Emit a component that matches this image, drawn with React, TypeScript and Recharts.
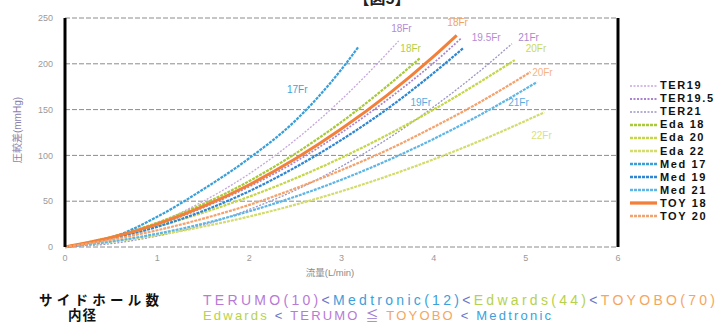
import React from 'react';
import { LineChart, Line, XAxis, YAxis, CartesianGrid, Legend, ReferenceDot, ReferenceLine } from 'recharts';

// flow (L/min), pressure gradient (mmHg)
const flowTicks = [0, 1, 2, 3, 4, 5, 6];
const pressureTicks = [0, 50, 100, 150, 200, 250];

const TER19: [number, number][] = [[0, 0], [0.5, 9.7], [1, 26], [1.5, 50], [2, 80], [2.5, 117], [3, 161], [3.5, 212], [3.62, 225]];
const TER195: [number, number][] = [[0, 0], [0.5, 9.9], [1, 24], [1.5, 43], [2, 66], [2.5, 93], [3, 125], [3.5, 161], [4, 201], [4.3, 228]];
const TER21: [number, number][] = [[0, 0], [0.5, 3.7], [1, 12], [1.5, 24], [2, 41], [2.5, 62], [3, 88], [3.5, 118], [4, 153], [4.5, 192], [4.85, 222]];
const EDA18: [number, number][] = [[0, 0], [0.5, 11], [1, 26.5], [1.5, 47], [2, 72], [2.5, 102], [3, 136.5], [3.5, 176], [3.85, 206]];
const EDA20: [number, number][] = [[0, 0], [0.5, 10], [1, 22.5], [1.5, 37.5], [2, 55], [2.5, 75], [3, 97.5], [3.5, 122.5], [4, 150], [4.5, 180], [4.88, 204]];
const EDA22: [number, number][] = [[0, 0], [0.5, 5.6], [1, 13], [1.5, 22.3], [2, 33.3], [2.5, 46.2], [3, 60.9], [3.5, 77.4], [4, 95.7], [4.5, 115.8], [5.2, 147]];
const MED17: [number, number][] = [[0, 0], [0.5, 10], [1, 33], [1.5, 63], [2, 97], [2.5, 138], [3, 194], [3.18, 218]];
const MED19: [number, number][] = [[0, 0], [0.5, 8.9], [1, 22], [1.5, 39.4], [2, 61], [2.5, 87], [3, 117], [3.5, 151], [4, 190], [4.32, 217]];
const MED21: [number, number][] = [[0, 0], [0.5, 6], [1, 14.5], [1.5, 25.5], [2, 39], [2.5, 55], [3, 73.5], [3.5, 94.5], [4, 118], [4.5, 144], [5.12, 180]];
const TOY18: [number, number][] = [[0, 0], [0.5, 10.3], [1, 25], [1.5, 44.3], [2, 68], [2.5, 96.3], [3, 129], [3.5, 166], [4, 208], [4.25, 231]];
const TOY20: [number, number][] = [[0, 0], [0.5, 8], [1, 18.3], [1.5, 31], [2, 46], [2.5, 64], [3, 84], [3.5, 106], [4, 131], [4.5, 158], [5.05, 191]];

const curveLabelText = ['17Fr', '18Fr', '18Fr', '18Fr', '19.5Fr', '21Fr', '20Fr', '20Fr', '19Fr', '21Fr', '22Fr'];
const curveLabelFlow = [2.52, 3.65, 3.75, 4.26, 4.57, 5.03, 5.11, 5.18, 3.86, 4.92, 5.17];
const curveLabelPressure = [172, 239, 217, 245, 229, 229, 217, 191, 158, 158, 122];
const curveLabelColor = ['#3fa2d9', '#b58ad6', '#b2cf48', '#f4a45a', '#b58ad6', '#a88ad0', '#c9d95a', '#f6b487', '#55ade3', '#55ade3', '#d9e27a'];

const series = [
  { name: 'TER19', data: TER19, color: '#c6a6de', width: 1.3, dash: '2 1.5' },
  { name: 'TER19.5', data: TER195, color: '#a983cf', width: 1.7, dash: '2 1.5' },
  { name: 'TER21', data: TER21, color: '#9c96c6', width: 1.3, dash: '2 1.5' },
  { name: 'Eda 18', data: EDA18, color: '#a9c93c', width: 2.2, dash: '3 1' },
  { name: 'Eda 20', data: EDA20, color: '#c5d64a', width: 2.2, dash: '3 1' },
  { name: 'Eda 22', data: EDA22, color: '#d3dc6c', width: 2.2, dash: '3 1' },
  { name: 'Med 17', data: MED17, color: '#3a9fd9', width: 2.2, dash: '3 1' },
  { name: 'Med 19', data: MED19, color: '#2f86d2', width: 2.2, dash: '3 1' },
  { name: 'Med 21', data: MED21, color: '#5fb6e6', width: 2.2, dash: '3 1' },
  { name: 'TOY 18', data: TOY18, color: '#f3803a', width: 3, dash: undefined as string | undefined },
  { name: 'TOY 20', data: TOY20, color: '#f4a36e', width: 2.2, dash: '3 1' },
];

const FONT = "'Liberation Sans', Arial, 'Noto Sans CJK JP', sans-serif";

const LegendBox = () => (
  <div style={{ fontFamily: FONT }}>
    {series.map((s) => (
      <div key={s.name} style={{ display: 'flex', alignItems: 'center', height: 13.1 }}>
        <svg width={28} height={6} style={{ marginRight: 2 }}>
          <line x1={0} y1={3} x2={27} y2={3} stroke={s.color} strokeWidth={s.width + 0.3} strokeDasharray={s.dash} />
        </svg>
        <span style={{ fontSize: 11, fontWeight: 'bold', color: '#111', letterSpacing: 1.6, lineHeight: '13px' }}>{s.name}</span>
      </div>
    ))}
  </div>
);

export default function App() {
  return (
    <div style={{ position: 'absolute', left: 0, top: 0, width: 723, height: 324, background: '#fff', overflow: 'hidden' }}>
      <LineChart width={723} height={324} margin={{ top: 18, right: 105, bottom: 0, left: 0 }}>
        <CartesianGrid vertical={false} stroke="#8c8c8c" strokeDasharray="5 2" />
        <XAxis
          type="number"
          dataKey="q"
          domain={[0, 6]}
          ticks={flowTicks}
          height={77}
          axisLine={false}
          tickLine={false}
          tick={{ fill: '#9a9a9a', fontSize: 9, fontFamily: FONT }}
          allowDuplicatedCategory={false}
        />
        <YAxis
          type="number"
          domain={[0, 250]}
          ticks={pressureTicks}
          width={65}
          axisLine={{ stroke: '#000', strokeWidth: 3 }}
          tickLine={false}
          tickMargin={6}
          tick={{ fill: '#9a9a9a', fontSize: 9, fontFamily: FONT }}
        />
        <ReferenceLine x={6} stroke="#000" strokeWidth={3} ifOverflow="extendDomain" />
        {series.map((s) => (
          <Line
            key={s.name}
            name={s.name}
            data={s.data.map(([q, p]) => ({ q, p }))}
            dataKey="p"
            type="monotone"
            stroke={s.color}
            strokeWidth={s.width}
            strokeDasharray={s.dash}
            dot={false}
            activeDot={false}
            isAnimationActive={false}
          />
        ))}
        {curveLabelText.map((t, i) => (
          <ReferenceDot
            key={i}
            x={curveLabelFlow[i]}
            y={curveLabelPressure[i]}
            r={0}
            stroke="none"
            fill="none"
            label={{ value: t, position: 'center', fill: curveLabelColor[i], fontSize: 10, fontFamily: FONT }}
          />
        ))}
        <Legend
          layout="vertical"
          align="center"
          verticalAlign="middle"
          content={() => <LegendBox />}
          wrapperStyle={{ left: 630, top: 79, width: 90, height: 150 }}
        />
      </LineChart>
      <svg width={723} height={324} style={{ position: 'absolute', left: 0, top: 0, pointerEvents: 'none' }} fontFamily={FONT}>
        <text x={382} y={4} textAnchor="middle" fontSize={16} fontWeight="bold" fill="#222">【図5】</text>
        <text transform="translate(21,130) rotate(-90)" textAnchor="middle" fontSize={10} fill="#8a7fae">圧較差(mmHg)</text>
        <text x={330} y={276} textAnchor="middle" fontSize={9.5} fill="#8a8a8a">流量(L/min)</text>
        <text x={99} y={305} textAnchor="middle" fontSize={13.5} fontWeight="bold" fill="#111" textLength={120} lengthAdjust="spacing">サイドホール数</text>
        <text x={82} y={320} textAnchor="middle" fontSize={13.5} fontWeight="bold" fill="#111" textLength={28} lengthAdjust="spacing">内径</text>
        <text x={203} y={305} fontSize={14} textLength={512} lengthAdjust="spacing">
          <tspan fill="#b77ad6">TERUMO(10)</tspan>
          <tspan fill="#6c74c8">&lt;</tspan>
          <tspan fill="#3d9fdb">Medtronic(12)</tspan>
          <tspan fill="#6c74c8">&lt;</tspan>
          <tspan fill="#b6d24a">Edwards(44)</tspan>
          <tspan fill="#6c74c8">&lt;</tspan>
          <tspan fill="#f5a65e">TOYOBO(70)</tspan>
        </text>
        <text x={203} y={320} fontSize={13} textLength={348} lengthAdjust="spacing">
          <tspan fill="#b6d24a">Edwards</tspan>
          <tspan fill="#6c74c8"> &lt; </tspan>
          <tspan fill="#b77ad6">TERUMO</tspan>
          <tspan fill="#9a7ad0"> ≦ </tspan>
          <tspan fill="#f5a65e">TOYOBO</tspan>
          <tspan fill="#6c74c8"> &lt; </tspan>
          <tspan fill="#3d9fdb">Medtronic</tspan>
        </text>
      </svg>
    </div>
  );
}
